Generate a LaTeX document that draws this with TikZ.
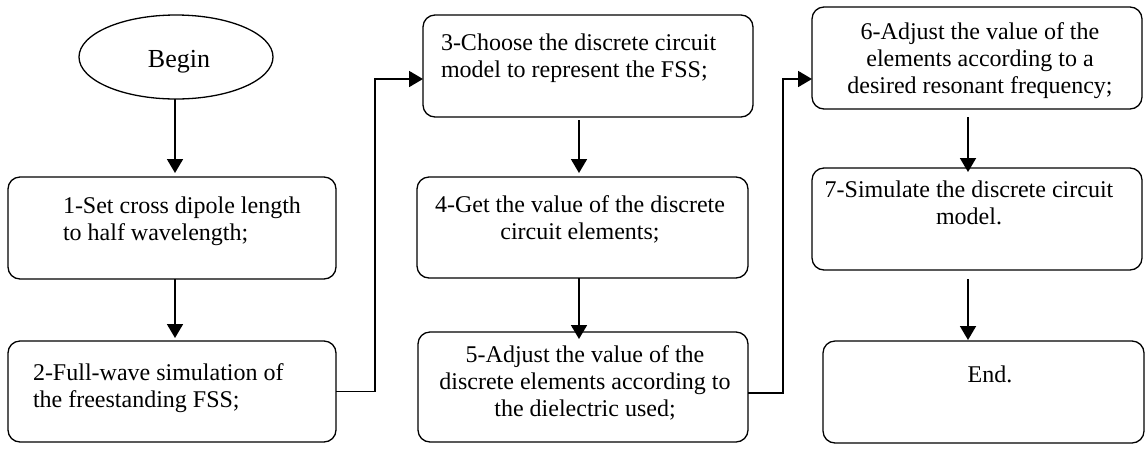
\documentclass[tikz,border=0pt]{standalone}
\usepackage{fontspec}
\setmainfont{Liberation Serif}
\usetikzlibrary{arrows.meta,calc,shapes.geometric}
\begin{document}
\begin{tikzpicture}[x=1pt,y=-1pt,
  box/.style={draw,line width=1.3pt,rounded corners=12pt,inner sep=0pt,outer sep=0pt},
  oval/.style={draw,ellipse,line width=1.3pt,inner sep=0pt,outer sep=0pt,minimum width=194pt,minimum height=84pt,font=\fontsize{26}{30}\selectfont},
  txt/.style={inner sep=0pt,outer sep=0pt,font=\fontsize{24}{27.3}\selectfont},
  arr/.style={line width=1.8pt,-{Triangle[length=14pt,width=16pt]}}]
\useasboundingbox (0,0) rectangle (1147,448);
% boxes
\node[oval] (bg) at (176,57) {};
\node[box,minimum width=328pt,minimum height=102pt] (b1) at (172,228) {};
\node[box,minimum width=328pt,minimum height=101pt] (b2) at (172,391.5) {};
\node[box,minimum width=330pt,minimum height=102pt] (b3) at (588,66) {};
\node[box,minimum width=331pt,minimum height=101pt] (b4) at (582.5,227.5) {};
\node[box,minimum width=330pt,minimum height=110pt] (b5) at (583,387) {};
\node[box,minimum width=330pt,minimum height=102pt] (b6) at (977,58) {};
\node[box,minimum width=330pt,minimum height=102pt] (b7) at (977,219) {};
\node[box,minimum width=321pt,minimum height=102pt] (b8) at (983.5,392) {};
% texts
\node[font=\fontsize{26}{30}\selectfont,inner sep=0pt,anchor=base] (tbg) at (179,67) {Begin};
\node[txt,anchor=base west] (t1) at (63,213) {\begin{tabular}[t]{@{}l@{}}1-Set cross dipole length\\to half wavelength;\end{tabular}};
\node[txt,anchor=base west] (t2) at (33,380) {\begin{tabular}[t]{@{}l@{}}2-Full-wave simulation of\\the freestanding FSS;\end{tabular}};
\node[txt,anchor=base west] (t3) at (441,50) {\begin{tabular}[t]{@{}l@{}}3-Choose the discrete circuit\\model to represent the FSS;\end{tabular}};
\node[txt,anchor=base] (t4) at (580,212) {\begin{tabular}[t]{@{}c@{}}4-Get the value of the discrete\\circuit elements;\end{tabular}};
\node[txt,anchor=base] (t5) at (585,362) {\begin{tabular}[t]{@{}c@{}}5-Adjust the value of the\\discrete elements according to\\the dielectric used;\end{tabular}};
\node[txt,anchor=base] (t6) at (980,39) {\begin{tabular}[t]{@{}c@{}}6-Adjust the value of the\\elements according to a\\desired resonant frequency;\end{tabular}};
\node[txt,anchor=base] (t7) at (969,197) {\begin{tabular}[t]{@{}c@{}}7-Simulate the discrete circuit\\model.\end{tabular}};
\node[txt,anchor=base] (t8) at (990,382) {End.};
% column coordinates
\coordinate (cA) at (175,0);
\coordinate (cB) at (579,0);
\coordinate (cC) at (968,0);
\coordinate (k1) at (375,79);
\coordinate (k2) at (783,79);
% connectors
\draw[arr,shorten >=4pt] (bg.south -| cA) -- (b1.north -| cA);
\draw[arr,shorten >=3pt] (b1.south -| cA) -- (b2.north -| cA);
\draw[arr] (b2.east) -| (k1) -- (b3.west |- k1);
\draw[arr,shorten <=3pt,shorten >=4pt] (b3.south -| cB) -- (b4.north -| cB);
\draw[arr] (b4.south -| cB) -- ($(b5.north -| cB)+(0,7)$);
\draw[arr] ($(b5.east)+(0,6)$) -| (k2) -- (b6.west |- k2);
\draw[arr,shorten <=8pt] (b6.south -| cC) -- ($(b7.north -| cC)+(0,4)$);
\draw[arr,shorten <=9pt] (b7.south -| cC) -- ($(b8.north -| cC)+(0,-1)$);
\end{tikzpicture}
\end{document}
